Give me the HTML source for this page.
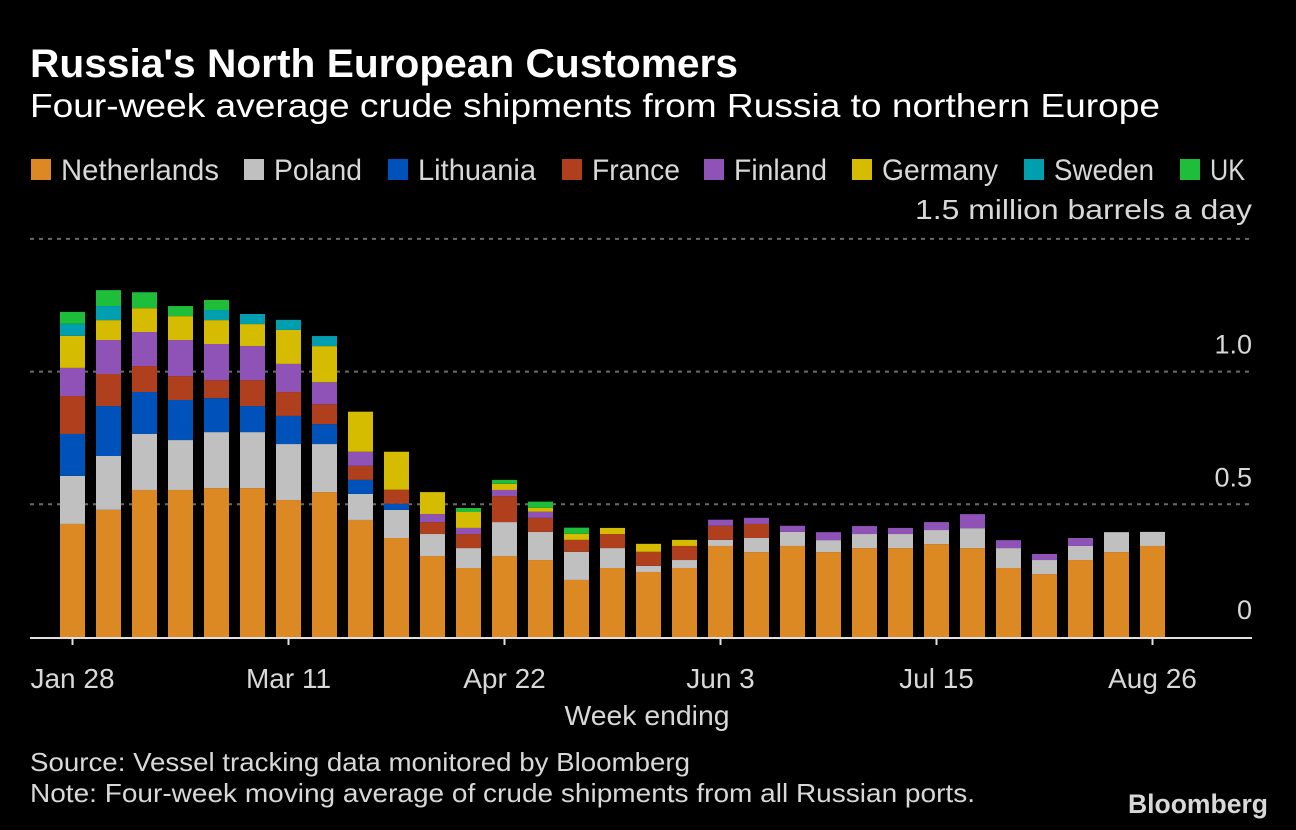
<!DOCTYPE html>
<html><head><meta charset="utf-8">
<style>
html,body{margin:0;padding:0;background:#000;}
svg{display:block;}
text{font-family:"Liberation Sans","DejaVu Sans",sans-serif;}
</style></head>
<body>
<svg id="chart" width="1296" height="830" viewBox="0 0 1296 830" xmlns="http://www.w3.org/2000/svg">
<rect x="0" y="0" width="1296" height="830" fill="#000"/>
<text x="30" y="77" font-size="40" font-weight="bold" fill="#fff" textLength="708" lengthAdjust="spacingAndGlyphs">Russia's North European Customers</text>
<text x="30" y="117" font-size="33" fill="#fff" textLength="1130" lengthAdjust="spacingAndGlyphs">Four-week average crude shipments from Russia to northern Europe</text>
<g id="legend"></g>
<text x="1252" y="219" font-size="28" fill="#d8d8d8" text-anchor="end" textLength="337" lengthAdjust="spacingAndGlyphs">1.5 million barrels a day</text>
<g id="grid"></g>
<g id="bars"></g>
<g id="xaxis"></g>
<text x="647" y="725" font-size="28" fill="#d8d8d8" text-anchor="middle" textLength="165" lengthAdjust="spacingAndGlyphs">Week ending</text>
<text x="30" y="771" font-size="26" fill="#d8d8d8" textLength="660" lengthAdjust="spacingAndGlyphs">Source: Vessel tracking data monitored by Bloomberg</text>
<text x="30" y="802" font-size="26" fill="#d8d8d8" textLength="945" lengthAdjust="spacingAndGlyphs">Note: Four-week moving average of crude shipments from all Russian ports.</text>
<text x="1128" y="813" font-size="27" font-weight="bold" fill="#d8d8d8" textLength="140" lengthAdjust="spacingAndGlyphs">Bloomberg</text>
</svg>
<script>
const countries = ["Netherlands","Poland","Lithuania","France","Finland","Germany","Sweden","UK"];
const colors = ["#dc8924","#c0c0c0","#0052bb","#b03f1d","#8f52b7","#d6bc00","#009fb0","#1ebd3a"];
const netherlands = [.426,.479,.554,.554,.561,.561,.516,.546,.441,.373,.305,.26,.305,.29,.215,.26,.245,.26,.343,.32,.343,.32,.335,.335,.35,.335,.26,.237,.29,.32,.343];
const poland = [.181,.203,.211,.188,.211,.211,.211,.181,.098,.106,.083,.075,.128,.106,.106,.075,.023,.03,.023,.053,.053,.045,.053,.053,.053,.075,.075,.053,.053,.075,.053];
const lithuania = [.158,.188,.158,.151,.128,.098,.106,.075,.053,.023,0,0,0,0,0,0,0,0,0,0,0,0,0,0,0,0,0,0,0,0,0];
const france = [.143,.121,.098,.09,.068,.098,.09,.075,.053,.053,.045,.053,.098,.053,.045,.053,.053,.053,.053,.053,0,0,0,0,0,0,0,0,0,0,0];
const finland = [.106,.128,.128,.136,.136,.128,.106,.083,.053,0,.03,.023,.023,.023,0,0,0,0,.023,.023,.023,.03,.03,.023,.03,.053,.03,.023,.03,0,0];
const germany = [.121,.075,.09,.09,.09,.083,.128,.136,.151,.143,.083,.06,.023,.015,.023,.023,.03,.023,0,0,0,0,0,0,0,0,0,0,0,0,0];
const sweden = [.045,.053,0,0,.038,.038,.038,.038,0,0,0,0,0,0,0,0,0,0,0,0,0,0,0,0,0,0,0,0,0,0,0];
const uk = [.045,.06,.06,.038,.038,0,0,0,0,0,0,.015,.015,.023,.023,0,0,0,0,0,0,0,0,0,0,0,0,0,0,0,0];
const yTicks = [0,0.5,1.0,1.5];
const yTickLabels = ["0","0.5","1.0",""];
const xTickIndex = [0,6,12,18,24,30];
const xTickLabels = ["Jan 28","Mar 11","Apr 22","Jun 3","Jul 15","Aug 26"];
const legendX = [31,244,388,562,704,852,1024,1180];
const legendTextW = [158,88,118,88,93,116,100,35];

const series = [netherlands,poland,lithuania,france,finland,germany,sweden,uk];
const NS="http://www.w3.org/2000/svg";
const y0=637, pxPerUnit=265.4;
function yScale(v){return y0 - v*pxPerUnit;}
function xScale(i){return 60 + i*36;}
const barW=25;
function mk(tag,attrs,parent){const e=document.createElementNS(NS,tag);for(const k in attrs)e.setAttribute(k,attrs[k]);parent.appendChild(e);return e;}

const leg=document.getElementById('legend');
countries.forEach((c,i)=>{
  const sw=mk('rect',{x:legendX[i],y:159,width:20,height:21,fill:colors[i]},leg);
  
  
  const t=mk('text',{x:legendX[i]+30,y:180,'font-size':30,fill:'#d8d8d8',textLength:legendTextW[i],lengthAdjust:'spacingAndGlyphs'},leg);
  t.textContent=c;
  
  
});

const grid=document.getElementById('grid');
yTicks.forEach((v,i)=>{
  if(v>0){
    const l=mk('line',{x1:30,x2:1252,y1:yScale(v),y2:yScale(v),stroke:'#6a6a6a','stroke-width':2,'stroke-dasharray':'4 5'},grid);
    
    
  }
  if(yTickLabels[i]){
    const t=mk('text',{x:1252,y:yScale(v)-18,'font-size':27,fill:'#d8d8d8','text-anchor':'end'},grid);
    t.textContent=yTickLabels[i];
    
    
  }
});

const bars=document.getElementById('bars');
for(let i=0;i<netherlands.length;i++){
  let cum=0;
  series.forEach((s,k)=>{
    const v=s[i]; if(!v) return;
    const r=mk('rect',{x:xScale(i),y:yScale(cum+v),width:barW,height:yScale(cum)-yScale(cum+v),fill:colors[k]},bars);
    
    
    cum+=v;
  });
}

const xa=document.getElementById('xaxis');
const base=mk('line',{x1:30,x2:1252,y1:y0+1,y2:y0+1,stroke:'#e0e0e0','stroke-width':2},xa);


xTickIndex.forEach((idx,j)=>{
  const cx=xScale(idx)+barW/2;
  const tk=mk('line',{x1:cx,x2:cx,y1:y0,y2:y0+8,stroke:'#e0e0e0','stroke-width':2},xa);
  
  
  const t=mk('text',{x:cx,y:688,'font-size':28,fill:'#d8d8d8','text-anchor':'middle'},xa);
  t.textContent=xTickLabels[j];
  
  
});
</script>
</body></html>
